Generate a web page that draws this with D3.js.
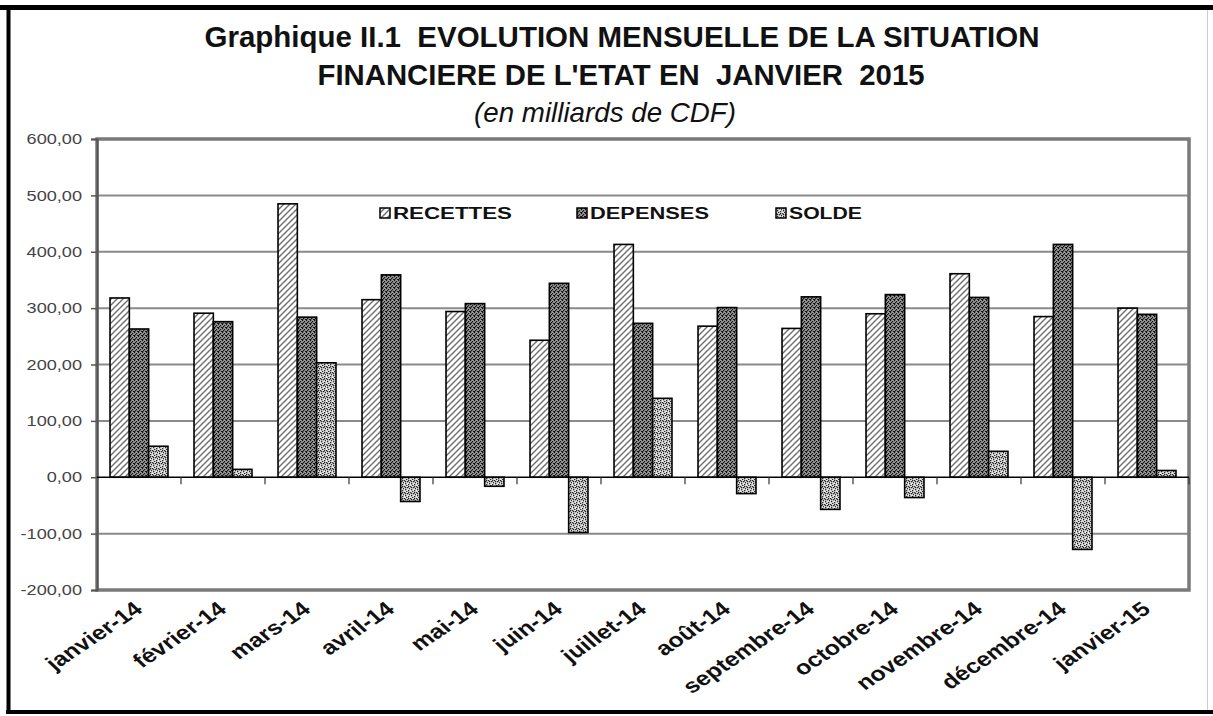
<!DOCTYPE html>
<html>
<head>
<meta charset="utf-8">
<script src="https://cdn.jsdelivr.net/npm/d3@7"></script>
<style>
  body { margin: 0; background: #fff; }
  svg { display: block; }
</style>
</head>
<body>
<svg id="chart"></svg>
<script>
const months = ['janvier-14', 'février-14', 'mars-14', 'avril-14', 'mai-14', 'juin-14', 'juillet-14',
	'août-14', 'septembre-14', 'octobre-14', 'novembre-14', 'décembre-14', 'janvier-15'];
const series = ['RECETTES', 'DEPENSES', 'SOLDE'];
const recettes = [318, 291, 485, 315, 294, 243, 413, 268, 264, 290, 361, 285, 300];
const depenses = [263, 276, 284, 359, 308, 344, 273, 301, 320, 324, 319, 413, 289];
const solde = [55, 14, 203, -43, -16, -98, 140, -29, -57, -36, 46, -128, 12];
const yTicks = [-200, -100, 0, 100, 200, 300, 400, 500, 600];
const titleLines = ['Graphique II.1  EVOLUTION MENSUELLE DE LA SITUATION',
	"FINANCIERE DE L'ETAT EN  JANVIER  2015", '(en milliards de CDF)'];

const width = 1213, height = 716;
const svg = d3.select('#chart').attr('width', width).attr('height', height);
const plot = {left: 97, right: 1189, top: 139, bottom: 590};
const stretch = 1.25;	// the original picture is stretched sideways

// patterns for the bars
const defs = svg.append('defs');
const pRec = defs.append('pattern').attr('id', 'pRec').attr('patternUnits', 'userSpaceOnUse')
	.attr('width', 6).attr('height', 6);
pRec.append('rect').attr('width', 6).attr('height', 6).attr('fill', '#fff');
pRec.append('path').attr('d', 'M0,6 L6,0 M-1,1 L1,-1 M5,7 L7,5')
	.attr('stroke', '#6e6e6e').attr('stroke-width', 1.4);

const pDep = defs.append('pattern').attr('id', 'pDep').attr('patternUnits', 'userSpaceOnUse')
	.attr('width', 4).attr('height', 4);
pDep.append('rect').attr('width', 4).attr('height', 4).attr('fill', '#9a9a9a');
[[0, 0], [2, 1], [1, 2], [3, 3], [0, 3]].forEach(([x, y]) =>
	pDep.append('rect').attr('x', x).attr('y', y).attr('width', 1.2).attr('height', 1.2).attr('fill', '#111'));

const pSol = defs.append('pattern').attr('id', 'pSol').attr('patternUnits', 'userSpaceOnUse')
	.attr('width', 6).attr('height', 6);
pSol.append('rect').attr('width', 6).attr('height', 6).attr('fill', '#e4e4e4');
[[0, 0], [3, 1], [1, 3], [4, 4], [2, 5], [5, 2], [1, 1], [4, 0]].forEach(([x, y]) =>
	pSol.append('rect').attr('x', x).attr('y', y).attr('width', 1.3).attr('height', 1.3).attr('fill', '#222'));

const fills = {RECETTES: 'url(#pRec)', DEPENSES: 'url(#pDep)', SOLDE: 'url(#pSol)'};

// outer frame
svg.append('line').attr('x1', 0).attr('x2', width).attr('y1', 7.5).attr('y2', 7.5)
	.attr('stroke', '#000').attr('stroke-width', 5);
svg.append('line').attr('x1', 8.5).attr('x2', 8.5).attr('y1', 5).attr('y2', 714)
	.attr('stroke', '#000').attr('stroke-width', 4);
svg.append('line').attr('x1', 6).attr('x2', width).attr('y1', 712).attr('y2', 712)
	.attr('stroke', '#000').attr('stroke-width', 4);
svg.append('line').attr('x1', 1207.5).attr('x2', 1207.5).attr('y1', 10).attr('y2', 710)
	.attr('stroke', '#ccc').attr('stroke-width', 1);

// title
const titleY = [47, 85, 122];
const titleX = [622, 621, 605];
const titleLen = [835, 607, 262];
svg.append('g').selectAll('text').data(titleLines).enter().append('text')
	.attr('x', (d, i) => titleX[i]).attr('y', (d, i) => titleY[i])
	.attr('text-anchor', 'middle')
	.attr('font-family', '"Liberation Sans Narrow", "Liberation Sans", Arial, sans-serif')
	.attr('font-weight', (d, i) => i < 2 ? 'bold' : 'normal')
	.attr('font-style', (d, i) => i == 2 ? 'italic' : 'normal')
	.attr('font-size', (d, i) => i < 2 ? 30 : 28)
	.attr('textLength', (d, i) => titleLen[i])
	.attr('lengthAdjust', 'spacingAndGlyphs')
	.attr('fill', '#111')
	.style('white-space', 'pre')
	.text(d => d);

// scales
const x0 = d3.scaleBand().domain(months).range([plot.left, plot.right])
	.paddingInner(0.31).paddingOuter(0.155);
const x1 = d3.scaleBand().domain(series).range([0, x0.bandwidth()]);
const y = d3.scaleLinear().domain([-200, 600]).range([plot.bottom, plot.top]);

// grid
svg.append('g').selectAll('line').data(yTicks.filter(t => t != 0 && t != -200 && t != 600)).enter().append('line')
	.attr('x1', plot.left).attr('x2', plot.right)
	.attr('y1', d => y(d)).attr('y2', d => y(d))
	.attr('stroke', '#8a8a8a').attr('stroke-width', 2);

// plot frame
svg.append('rect')
	.attr('x', plot.left).attr('y', plot.top)
	.attr('width', plot.right - plot.left).attr('height', plot.bottom - plot.top)
	.attr('fill', 'none').attr('stroke', '#7a7a7a').attr('stroke-width', 3.5);

// y axis
const yAxis = svg.append('g').attr('transform', `translate(${plot.left},0)`)
	.call(d3.axisLeft(y).tickValues(yTicks).tickSize(6).tickPadding(9)
		.tickFormat(d => d3.format('.2f')(d).replace('.', ',').replace('\u2212', '-')));
yAxis.select('.domain').attr('stroke', '#555').attr('stroke-width', 2);
yAxis.selectAll('.tick line').attr('stroke', '#555').attr('stroke-width', 1.5);
yAxis.selectAll('.tick text')
	.attr('font-family', '"Liberation Sans", Arial, sans-serif')
	.attr('font-size', 14.5).attr('fill', '#444')
	.attr('transform', function() {
		return `translate(${this.getAttribute('x')},0) scale(${stretch},1) translate(${-this.getAttribute('x')},0)`;
	});

// bars
const data = months.map((m, i) => ({month: m, values: [
	{key: 'RECETTES', value: recettes[i]},
	{key: 'DEPENSES', value: depenses[i]},
	{key: 'SOLDE', value: solde[i]}]}));

svg.append('g').selectAll('g').data(data).enter().append('g')
	.attr('transform', d => `translate(${x0(d.month)},0)`)
	.selectAll('rect').data(d => d.values).enter().append('rect')
		.attr('x', d => x1(d.key))
		.attr('width', x1.bandwidth())
		.attr('y', d => y(Math.max(0, d.value)))
		.attr('height', d => Math.abs(y(d.value) - y(0)))
		.attr('fill', d => fills[d.key])
		.attr('stroke', '#000').attr('stroke-width', 1.6);

// zero line with category ticks
const xAxis = svg.append('g').attr('transform', `translate(0,${y(0)})`);
xAxis.append('line').attr('x1', plot.left).attr('x2', plot.right)
	.attr('stroke', '#000').attr('stroke-width', 1.6);
xAxis.selectAll('.cat').data(months).enter().append('line').attr('class', 'cat')
	.attr('x1', d => x0(d) + x0.bandwidth() + x0.step() * x0.paddingInner() / 2)
	.attr('x2', d => x0(d) + x0.bandwidth() + x0.step() * x0.paddingInner() / 2)
	.attr('y1', 0).attr('y2', 7)
	.attr('stroke', '#333').attr('stroke-width', 1.2);

// x labels
svg.append('g').selectAll('text').data(months).enter().append('text')
	.attr('transform', d => `translate(${x0(d) + x0.bandwidth() / 2 + 5},${plot.bottom + 21}) scale(${stretch},1) rotate(-40)`)
	.attr('text-anchor', 'end')
	.attr('font-family', '"Liberation Sans", Arial, sans-serif')
	.attr('font-weight', 'bold').attr('font-size', 20).attr('fill', '#111')
	.text(d => d);

// legend
const legendX = [380, 577, 776];
const legendLen = [119, 119, 73];
const legend = svg.append('g').selectAll('g').data(series).enter().append('g')
	.attr('transform', (d, i) => `translate(${legendX[i]},213)`);
legend.append('rect').attr('x', 0).attr('y', -5).attr('width', 10).attr('height', 10)
	.attr('fill', d => fills[d]).attr('stroke', '#000').attr('stroke-width', 1.5);
legend.append('text').attr('x', 13).attr('y', 6)
	.attr('font-family', '"Liberation Sans", Arial, sans-serif')
	.attr('font-weight', 'bold').attr('font-size', 16).attr('fill', '#111')
	.attr('textLength', (d, i) => legendLen[i]).attr('lengthAdjust', 'spacingAndGlyphs')
	.text(d => d);
</script>
</body>
</html>
